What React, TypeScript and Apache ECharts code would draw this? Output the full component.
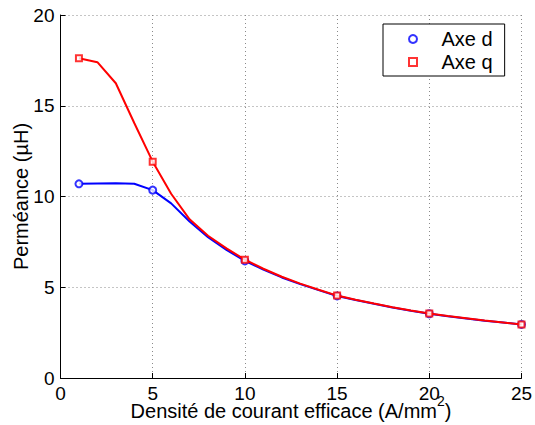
import React, { useEffect, useRef } from "react";
import * as echarts from "echarts";

const xValues = [1, 2, 3, 4, 5, 6, 7, 8, 9, 10, 11, 12, 13, 14, 15, 16, 17, 18, 19, 20, 21, 22, 23, 24, 25];
const axeD = [10.7, 10.72, 10.73, 10.7, 10.35, 9.62, 8.62, 7.76, 7.06, 6.45, 5.97, 5.54, 5.17, 4.84, 4.52, 4.3, 4.09, 3.89, 3.71, 3.54, 3.4, 3.28, 3.16, 3.06, 2.95];
const axeQ = [17.62, 17.4, 16.24, 14.05, 11.92, 10.15, 8.74, 7.84, 7.14, 6.52, 6.02, 5.58, 5.2, 4.86, 4.54, 4.31, 4.1, 3.9, 3.72, 3.55, 3.41, 3.29, 3.17, 3.06, 2.95];
const markerX = [1, 5, 10, 15, 20, 25];
const markerD = [10.7, 10.35, 6.45, 4.52, 3.54, 2.95];
const markerQ = [17.62, 11.92, 6.52, 4.54, 3.55, 2.95];
const seriesNames = ["Axe d", "Axe q"];
const xTitle = "Densité de courant efficace (A/mm";
const yTitle = "Perméance (µH)";

const FONT = "'Liberation Sans', Arial, Helvetica, sans-serif";

export default function App() {
  const ref = useRef<HTMLDivElement>(null);
  useEffect(() => {
    if (!ref.current) return;
    const chart = echarts.init(ref.current, undefined, { renderer: "svg" });
    const pair = (xs: number[], ys: number[]) => xs.map((x, i) => [x, ys[i]]);
    const splitLine = { show: true, lineStyle: { color: "#8a8a8a", type: [1, 3] as any, width: 1 } };
    chart.setOption({
      animation: false,
      backgroundColor: "#ffffff",
      grid: { left: 60.5, right: 13.5, top: 15, bottom: 47, containLabel: false, outerBoundsMode: "none" },
      xAxis: {
        type: "value",
        min: 0,
        max: 25,
        interval: 5,
        name: xTitle + "{sup|2})",
        nameLocation: "middle",
        nameGap: 16,
        nameMoveOverlap: false,
        nameTextStyle: {
          fontFamily: FONT,
          fontSize: 20,
          color: "#000",
          rich: {
            sup: { fontFamily: FONT, fontSize: 14, color: "#000", padding: [0, 0, 20, 0] },
          },
        },
        axisLine: { show: true, onZero: false, lineStyle: { color: "#000", width: 1 } },
        axisTick: { show: true, inside: true, length: 5, lineStyle: { color: "#000" } },
        axisLabel: { fontFamily: FONT, fontSize: 19, color: "#000", margin: 6 },
        splitLine,
      },
      yAxis: {
        type: "value",
        min: 0,
        max: 20,
        interval: 5,
        name: yTitle,
        nameLocation: "middle",
        nameGap: 30,
        nameMoveOverlap: false,
        nameTextStyle: { fontFamily: FONT, fontSize: 20, color: "#000" },
        axisLine: { show: true, onZero: false, lineStyle: { color: "#000", width: 1 } },
        axisTick: { show: true, inside: true, length: 5, lineStyle: { color: "#000" } },
        axisLabel: { fontFamily: FONT, fontSize: 19, color: "#000", margin: 6 },
        splitLine,
      },
      legend: {
        data: [
          { name: seriesNames[0], icon: "emptyCircle" },
          {
            name: seriesNames[1],
            icon: "path://M0 0H10V10H0Z",
            itemStyle: { color: "#fff", borderColor: "#ff0000", borderWidth: 2 },
          },
        ],
        orient: "vertical",
        left: 383,
        top: 24,
        padding: [5, 12, 4, 25],
        itemGap: 3,
        itemWidth: 47,
        itemHeight: 8,
        symbolKeepAspect: true,
        backgroundColor: "#fff",
        borderColor: "#000",
        borderWidth: 1,
        borderRadius: 0,
        textStyle: { fontFamily: FONT, fontSize: 20, color: "#000" },
      },
      series: [
        {
          type: "line",
          name: "d-line",
          data: pair(xValues, axeD),
          showSymbol: false,
          lineStyle: { color: "#0000ff", width: 2 },
          itemStyle: { color: "#0000ff" },
          z: 2,
        },
        {
          type: "scatter",
          name: seriesNames[0],
          data: pair(markerX, markerD),
          symbol: "emptyCircle",
          symbolSize: 7,
          itemStyle: { color: "#0000ff", borderColor: "#0000ff", borderWidth: 1.8 },
          z: 3,
        },
        {
          type: "line",
          name: "q-line",
          data: pair(xValues, axeQ),
          showSymbol: false,
          lineStyle: { color: "#ff0000", width: 2 },
          itemStyle: { color: "#ff0000" },
          z: 4,
        },
        {
          type: "scatter",
          name: seriesNames[1],
          data: pair(markerX, markerQ),
          symbol: "emptyRect",
          symbolSize: 6,
          itemStyle: { color: "#ff0000", borderColor: "#ff0000", borderWidth: 1.8 },
          z: 5,
        },
      ],
    });
    return () => chart.dispose();
  }, []);
  return (
    <div
      ref={ref}
      style={{ position: "absolute", left: 0, top: 0, width: 535, height: 425, background: "#fff" }}
    />
  );
}
